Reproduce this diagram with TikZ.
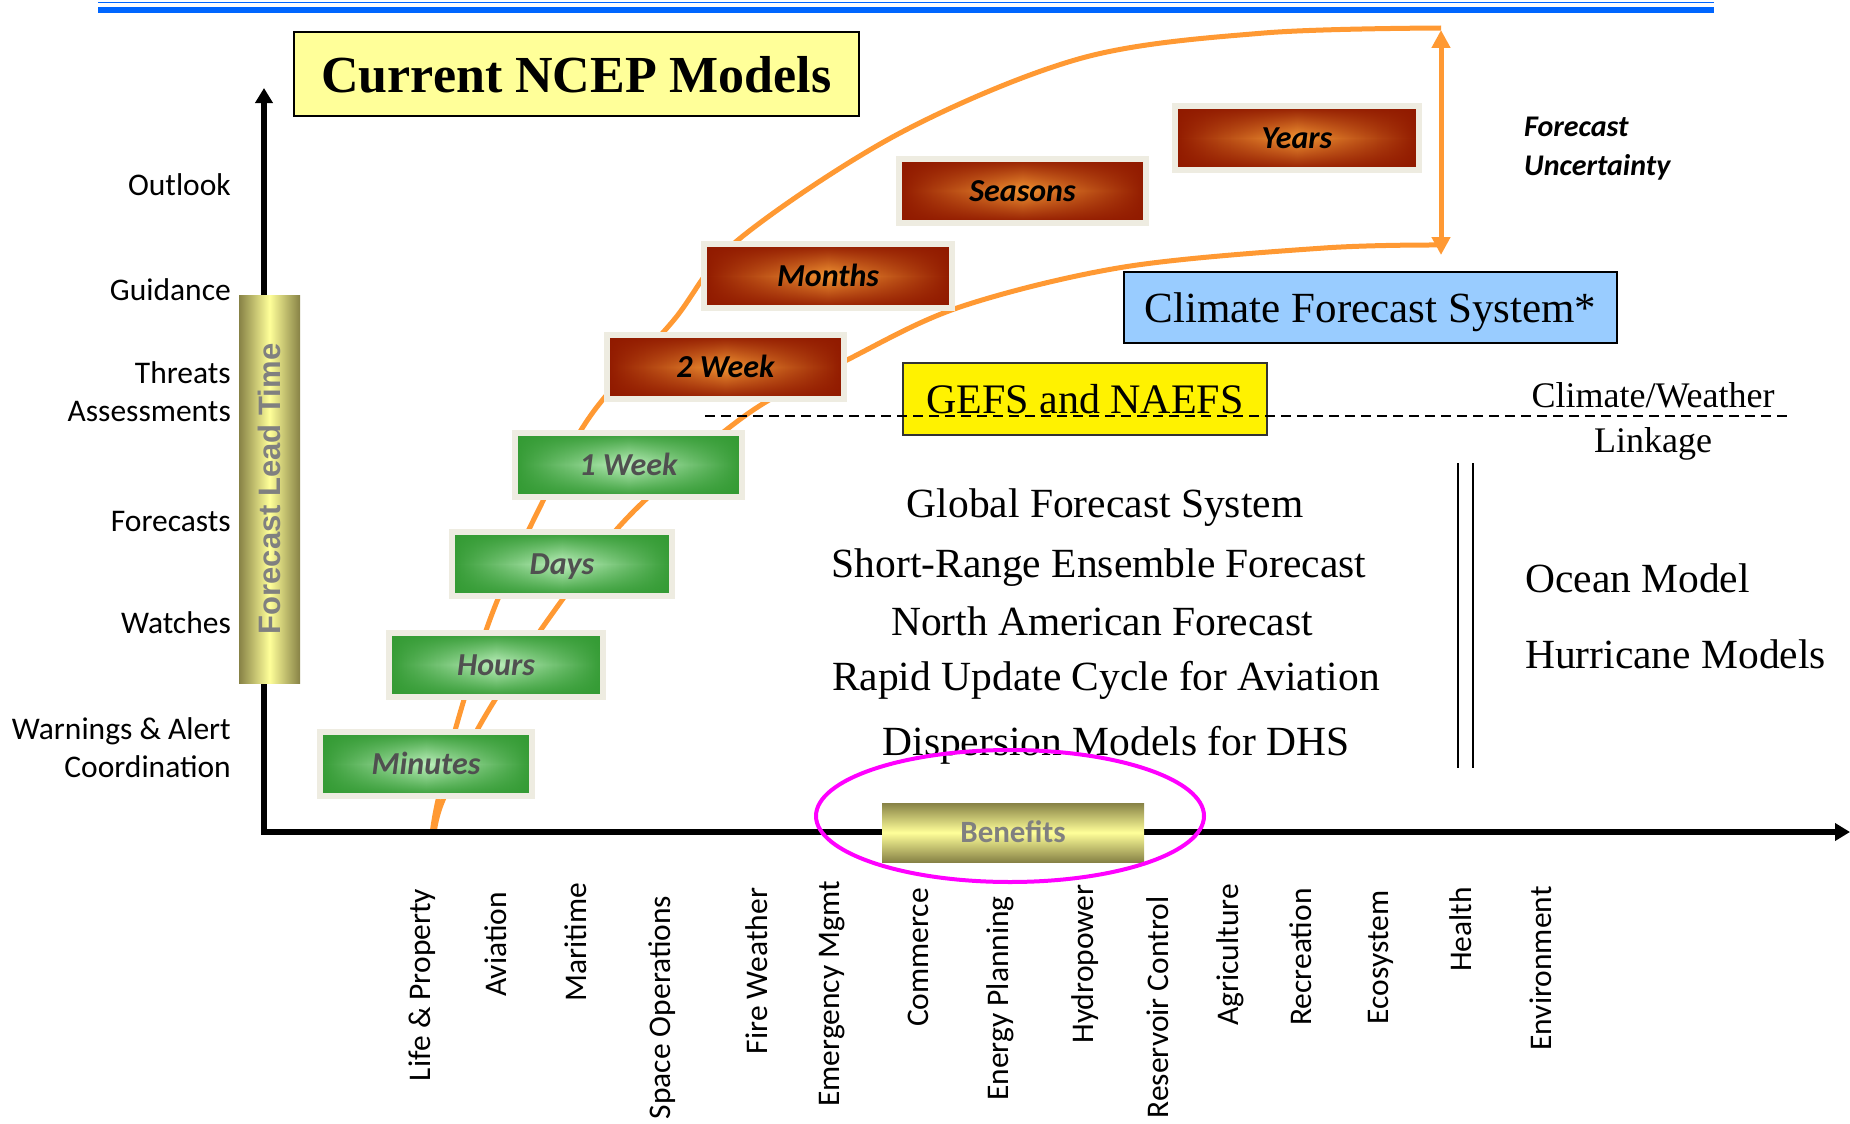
\documentclass[tikz,border=0pt]{standalone}
\usepackage{fontspec}
\setmainfont{Liberation Serif}
\newfontfamily\calibfont{Carlito}
\newfontfamily\arialfont{Liberation Sans}
\usetikzlibrary{arrows.meta,positioning,fadings,shapes.geometric}
\definecolor{ncepblue}{RGB}{0,102,255}
\definecolor{curveorange}{RGB}{255,153,51}
\definecolor{framebg}{RGB}{238,236,225}
\definecolor{greendark}{RGB}{52,155,52}
\definecolor{greenlight}{RGB}{192,242,192}
\definecolor{rustdark}{RGB}{145,26,0}
\definecolor{rustlight}{RGB}{243,150,52}
\definecolor{olivedark}{RGB}{135,130,70}
\definecolor{paleyellow}{RGB}{255,255,153}
\definecolor{skyblue}{RGB}{153,204,255}
\definecolor{textgray}{RGB}{128,128,128}
\definecolor{boxgray}{RGB}{80,80,80}
\definecolor{ringpink}{RGB}{255,0,255}
\tikzfading[name=sidefade, left color=transparent!0, right color=transparent!0, middle color=transparent!100]
\tikzfading[name=capfade, top color=transparent!0, bottom color=transparent!0, middle color=transparent!100]
\tikzset{
    spanbox/.style={draw=framebg, line width=6pt, minimum height=64pt, inner sep=0pt, text height=21pt, text depth=0pt, font=\calibfont\bfseries\itshape\fontsize{32}{38}\selectfont},
    greenbox/.style={spanbox, fill=greenlight, text=boxgray, path picture={
        \fill[greendark, path fading=sidefade] (path picture bounding box.south west) rectangle (path picture bounding box.north east);
        \fill[greendark, path fading=capfade] (path picture bounding box.south west) rectangle (path picture bounding box.north east);}},
    rustbox/.style={spanbox, fill=rustlight, text=black, path picture={
        \fill[rustdark, path fading=sidefade] (path picture bounding box.south west) rectangle (path picture bounding box.north east);
        \fill[rustdark, path fading=capfade] (path picture bounding box.south west) rectangle (path picture bounding box.north east);}},
    leadbar/.style={left color=olivedark, right color=olivedark, middle color=paleyellow, minimum width=61pt, minimum height=388pt, inner sep=0pt},
    leadtext/.style={rotate=90, inner sep=0pt, text=textgray, text height=22pt, text depth=0pt, font=\arialfont\bfseries\fontsize{31}{36}\selectfont},
    benefitbar/.style={top color=olivedark, bottom color=olivedark, middle color=paleyellow, minimum width=262pt, minimum height=59pt, inner sep=0pt, text=textgray, text height=20pt, text depth=0pt, font=\calibfont\bfseries\fontsize{31}{36}\selectfont},
    titlebox/.style={draw, line width=2pt, fill=paleyellow, minimum width=565pt, minimum height=84pt, inner sep=0pt, text depth=0pt, font=\bfseries\fontsize{52}{60}\selectfont},
    cfsbox/.style={draw, line width=2pt, fill=skyblue, minimum width=493pt, minimum height=71pt, inner sep=0pt, text height=29pt, text depth=0pt, font=\fontsize{43}{50}\selectfont},
    gefsbox/.style={draw=black!80, line width=2pt, fill=yellow, minimum width=364pt, minimum height=72pt, inner sep=0pt, text depth=0pt, font=\fontsize{42}{50}\selectfont},
    modeltext/.style={anchor=base, inner sep=0pt, font=\fontsize{41.5}{48}\selectfont},
    notetext/.style={anchor=base, align=center, inner sep=0pt, font=\fontsize{36}{45}\selectfont},
    tierlabel/.style={anchor=base east, align=right, inner sep=0pt, font=\calibfont\fontsize{31.5}{38}\selectfont},
    sectorlabel/.style={rotate=90, inner sep=0pt, font=\calibfont\fontsize{31.5}{36}\selectfont},
    uncertext/.style={anchor=base west, align=left, inner sep=0pt, font=\calibfont\bfseries\itshape\fontsize{30}{39}\selectfont},
    leadcurve/.style={curveorange, line width=5pt},
    axisline/.style={line width=5.5pt, {Triangle[length=15pt, width=17pt]}-{Triangle[length=15pt, width=17pt]}},
    uncertainty/.style={curveorange, line width=5pt, {Triangle[length=18pt, width=18pt]}-{Triangle[length=18pt, width=18pt]}},
    linkline/.style={line width=2pt, dash pattern=on 10pt off 6pt},
    sepline/.style={line width=2pt},
    ring/.style={ellipse, draw=ringpink, line width=4pt, minimum width=388pt, minimum height=132pt, inner sep=0pt}
}

\begin{document}
\begin{tikzpicture}[x=1pt, y=-1pt]
    \useasboundingbox (0,0) rectangle (1850,1124);

    % banner rule
    \draw[ncepblue, line width=1.5pt] (98,2.7) -- (1714,2.7);
    \draw[ncepblue, line width=6.5pt] (98,10) -- (1714,10);

    % spread of the lead time
    \draw[leadcurve] plot[smooth, tension=0.55] coordinates {(432,834) (438,800) (458,720) (492,614) (536,515) (591,415) (673,321) (738,240) (900,133) (1082,58) (1264,33) (1441,28)};
    \draw[leadcurve] plot[smooth, tension=0.55] coordinates {(434,834) (443,800) (484,718) (552,614) (630,515) (746,415) (847,360) (960,307) (1124,267) (1324,248) (1441,245)};

    % axes
    \coordinate (ytip) at (264,88);
    \coordinate (origin) at (264,832);
    \coordinate (xtip) at (1850,832);
    \draw[axisline] (ytip) -- (origin) -- (xtip);

    \node[leadbar, label={[leadtext]center:Forecast Lead Time}] (leadbar) at (269.5,489) {};

    % forecast ranges
    \node[greenbox, minimum width=212pt] (minutes) at (426,764) {Minutes};
    \node[greenbox, minimum width=214pt] (hours) at (496,664.5) {Hours};
    \node[greenbox, minimum width=220pt] (days) at (562,564) {Days};
    \node[greenbox, minimum width=227pt] (week) at (628.5,464.5) {1 Week};
    \node[rustbox, minimum width=237pt] (twoweek) at (725.5,367) {2 Week};
    \node[rustbox, minimum width=248pt] (months) at (828,276) {Months};
    \node[rustbox, minimum width=247pt] (seasons) at (1022.5,190.5) {Seasons};
    \node[rustbox, minimum width=244pt] (years) at (1297,138) {Years};

    \coordinate (uncTop) at (1441,30);
    \coordinate (uncBot) at (1441,255);
    \draw[uncertainty] (uncTop) -- (uncBot);
    \node[uncertext] (uncert) at (1524,175) {Forecast\\Uncertainty};

    % model boxes
    \node[titlebox] (title) at (576.5,74) {Current NCEP Models};
    \node[cfsbox] (cfs) at (1370.5,307.5) {Climate Forecast System*};
    \node[gefsbox] (gefs) at (1085,399) {GEFS and NAEFS};

    \coordinate (linkW) at (705,416);
    \coordinate (linkE) at (1791,416);
    \draw[linkline] (linkW) -- (linkE);
    \node[notetext] (linkage) at (1653,452) {Climate/Weather\\Linkage};

    \node[modeltext] (gfs) at (1105,517) {Global Forecast System};
    \node[modeltext] (sref) at (1099,577) {Short-Range Ensemble Forecast};
    \node[modeltext] (nam) at (1102,635) {North American Forecast};
    \node[modeltext] (ruc) at (1106,690) {Rapid Update Cycle for Aviation};
    \node[modeltext] (dhs) at (1116,755) {Dispersion Models for DHS};

    \coordinate (sepAtop) at (1458,463);
    \coordinate (sepAbot) at (1458,768);
    \coordinate (sepBtop) at (1473,463);
    \coordinate (sepBbot) at (1473,768);
    \draw[sepline] (sepAtop) -- (sepAbot);
    \draw[sepline] (sepBtop) -- (sepBbot);

    \node[modeltext, anchor=base west] (ocean) at (1525,592) {Ocean Model};
    \node[modeltext, anchor=base west] (hurricane) at (1525,668) {Hurricane Models};

    % products on the lead time axis
    \node[tierlabel] (outlook) at (231,195) {Outlook};
    \node[tierlabel] (guidance) at (231,300) {Guidance};
    \node[tierlabel] (threats) at (231,421) {Threats\\Assessments};
    \node[tierlabel] (forecasts) at (231,531) {Forecasts};
    \node[tierlabel] (watches) at (231,633) {Watches};
    \node[tierlabel] (warnings) at (231,777) {Warnings \& Alert\\Coordination};

    % benefits
    \node[benefitbar] (benefits) at (1013,832.5) {Benefits};
    \node[ring] (ring) at (1010,816) {};

    \node[sectorlabel] (life) at (422,985) {Life \& Property};
    \node[sectorlabel] (aviation) at (496,944.5) {Aviation};
    \node[sectorlabel] (maritime) at (576,942) {Maritime};
    \node[sectorlabel] (space) at (662,1007.5) {Space Operations};
    \node[sectorlabel] (fire) at (757,971) {Fire Weather};
    \node[sectorlabel] (emergency) at (832,994) {Emergency Mgmt};
    \node[sectorlabel] (commerce) at (918,957.5) {Commerce};
    \node[sectorlabel] (energy) at (1000,998.5) {Energy Planning};
    \node[sectorlabel] (hydro) at (1085,964) {Hydropower};
    \node[sectorlabel] (reservoir) at (1158,1007.5) {Reservoir Control};
    \node[sectorlabel] (agri) at (1230,955) {Agriculture};
    \node[sectorlabel] (recreation) at (1301,957) {Recreation};
    \node[sectorlabel] (eco) at (1381,957.5) {Ecosystem};
    \node[sectorlabel] (health) at (1461,929.5) {Health};
    \node[sectorlabel] (environment) at (1541,968.5) {Environment};
\end{tikzpicture}
\end{document}
